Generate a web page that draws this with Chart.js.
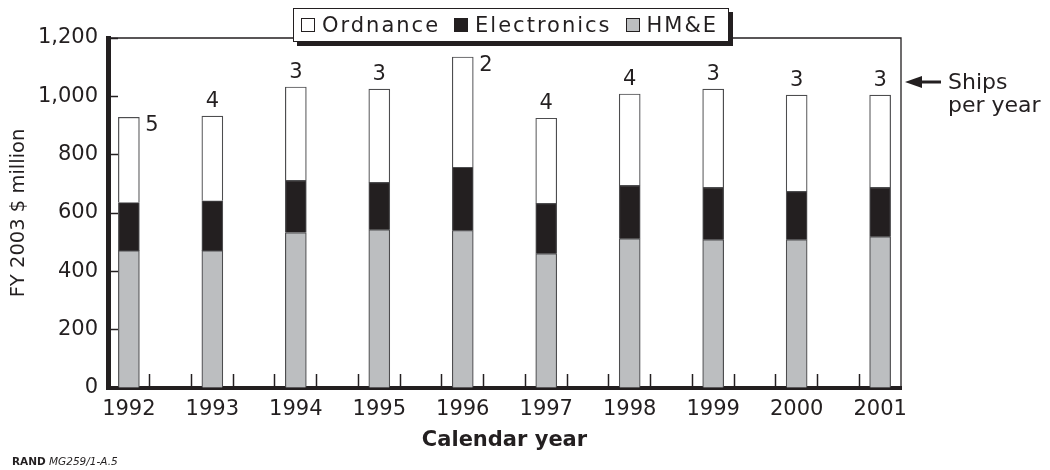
<!DOCTYPE html>
<html>
<head>
<meta charset="utf-8">
<script src="https://cdn.jsdelivr.net/npm/chart.js@4.4.1/dist/chart.umd.min.js"></script>
<style>
  html, body { margin: 0; padding: 0; background: #fff; }
  #wrap { position: relative; width: 1050px; height: 470px; }
  #legend {
    position: absolute; left: 293px; top: 8px; height: 34px; box-sizing: border-box;
    padding: 0 10px 0 7px; border: 1.5px solid #231f20; box-shadow: 4px 4px 0 #231f20;
    background: #fff; display: flex; align-items: center;
    font: 21px 'DejaVu Sans'; letter-spacing: 2px; color: #231f20; white-space: nowrap;
  }
  .item { display: flex; align-items: center; margin-right: 14px; }
  .item:last-child { margin-right: 0; }
  .swatch { width: 12px; height: 12px; border: 1px solid #231f20; margin-right: 7px; }
  #note { position: absolute; left: 12px; top: 455px; font: 10.5px 'DejaVu Sans'; color: #231f20; }
</style>
</head>
<body>
<div id="wrap">
  <canvas id="chart" width="1050" height="470"></canvas>
  <div id="legend"></div>
  <div id="note"><b>RAND</b> <i>MG259/1-A.5</i></div>
</div>
<script>
const years = ['1992', '1993', '1994', '1995', '1996', '1997', '1998', '1999', '2000', '2001'];
const hme = [471, 471, 533, 543, 540, 461, 512, 509, 509, 519];
const electronics = [165, 171, 179, 162, 217, 172, 183, 179, 165, 169];
const ordnance = [292, 290, 320, 320, 378, 292, 313, 337, 330, 316];
const ships = [5, 4, 3, 3, 2, 4, 4, 3, 3, 3];
const yTicks = [0, 200, 400, 600, 800, 1000, 1200];

const INK = '#231f20';
const FONT = 'DejaVu Sans';
// ship counts drawn beside the bar instead of above it
const SIDE_LABELS = [0, 4];

function toPoints(values) {
  return values.map((v, i) => ({ x: i, y: v }));
}

// tick marks sit a quarter step either side of each bar
function xTickValues() {
  const out = [];
  years.forEach((_, i) => {
    out.push(i);
    if (i < years.length - 1) out.push(i + 0.25, i + 0.75);
  });
  return out;
}

const frame = {
  id: 'frame',
  beforeDatasetsDraw(chart) {
    const { ctx, chartArea: a } = chart;
    ctx.save();
    ctx.strokeStyle = INK;
    ctx.lineWidth = 1.3;
    ctx.beginPath();
    ctx.moveTo(a.left, a.top);
    ctx.lineTo(a.right, a.top);
    ctx.lineTo(a.right, a.bottom);
    ctx.stroke();
    ctx.restore();
  }
};

const shipLabels = {
  id: 'shipLabels',
  afterDatasetsDraw(chart) {
    const { ctx, chartArea: a } = chart;
    const topMeta = chart.getDatasetMeta(chart.data.datasets.length - 1);
    ctx.save();
    ctx.font = '21px "' + FONT + '"';
    ctx.fillStyle = INK;
    ctx.textBaseline = 'middle';
    topMeta.data.forEach((bar, i) => {
      if (SIDE_LABELS.includes(i)) {
        ctx.textAlign = 'left';
        ctx.fillText(String(ships[i]), bar.x + bar.width / 2 + 6, bar.y + 8.5);
      } else {
        ctx.textAlign = 'center';
        ctx.fillText(String(ships[i]), bar.x, bar.y - 14.5);
      }
    });

    // "Ships per year" note with arrow
    const ay = a.top + 44;
    const tip = a.right + 4;
    ctx.fillStyle = INK;
    ctx.beginPath();
    ctx.moveTo(tip, ay);
    ctx.lineTo(tip + 17, ay - 6);
    ctx.lineTo(tip + 17, ay + 6);
    ctx.closePath();
    ctx.fill();
    ctx.fillRect(tip + 14, ay - 1.5, 22, 3);
    ctx.textAlign = 'left';
    ctx.textBaseline = 'alphabetic';
    ctx.font = '22px "' + FONT + '"';
    ctx.fillText('Ships', a.right + 47, a.top + 51);
    ctx.fillText('per year', a.right + 47, a.top + 74);
    ctx.restore();
  }
};

const barStyle = { borderColor: '#4d4d4f', borderWidth: 1.2, barThickness: 21, grouped: false };

const chart = new Chart(document.getElementById('chart'), {
  type: 'bar',
  data: {
    datasets: [
      { label: 'HM&E', data: toPoints(hme), backgroundColor: '#bcbec0', ...barStyle },
      { label: 'Electronics', data: toPoints(electronics), backgroundColor: INK, ...barStyle },
      { label: 'Ordnance', data: toPoints(ordnance), backgroundColor: '#ffffff', ...barStyle }
    ]
  },
  options: {
    responsive: false,
    animation: false,
    layout: { padding: { top: 38, right: 149, bottom: 0, left: 0 } },
    plugins: { legend: { display: false }, tooltip: { enabled: false } },
    scales: {
      x: {
        type: 'linear',
        offset: false,
        min: -0.25,
        max: years.length - 0.75,
        afterBuildTicks: (scale) => { scale.ticks = xTickValues().map(v => ({ value: v })); },
        afterFit: (scale) => { scale.height = 82; },
        ticks: {
          autoSkip: false,
          maxRotation: 0,
          padding: 23,
          color: INK,
          font: { family: FONT, size: 21 },
          callback: (v) => Number.isInteger(v) ? years[v] : ''
        },
        grid: {
          offset: false,
          drawOnChartArea: false,
          tickLength: -14,
          tickWidth: 1.5,
          tickColor: (ctx) => Number.isInteger(ctx.tick && ctx.tick.value) ? 'rgba(0,0,0,0)' : INK
        },
        border: { display: true, width: 4, color: INK },
        title: {
          display: true,
          text: 'Calendar year',
          color: INK,
          font: { family: FONT, size: 21, weight: 'bold' },
          padding: { top: 0, bottom: 17 }
        }
      },
      y: {
        stacked: true,
        min: 0,
        max: 1200,
        afterBuildTicks: (scale) => { scale.ticks = yTicks.map(v => ({ value: v })); },
        afterFit: (scale) => { scale.width = 108; },
        ticks: {
          padding: 20,
          color: INK,
          font: { family: FONT, size: 21 },
          callback: (v) => v.toLocaleString('en-US')
        },
        grid: { drawOnChartArea: false, tickLength: -10, tickWidth: 1.5, tickColor: INK },
        border: { display: true, width: 5, color: INK },
        title: {
          display: true,
          text: 'FY 2003 $ million',
          color: INK,
          font: { family: FONT, size: 19.5 },
          padding: { top: 7, bottom: 0 }
        }
      }
    }
  },
  plugins: [frame, shipLabels]
});

// legend built from the chart's datasets, top segment first
const legendEl = document.getElementById('legend');
legendEl.innerHTML = chart.data.datasets.slice().reverse().map(ds => `
  <span class="item"><span class="swatch" style="background:${ds.backgroundColor}"></span>${ds.label.replace('&', '&amp;')}</span>
`).join('');
</script>
</body>
</html>
